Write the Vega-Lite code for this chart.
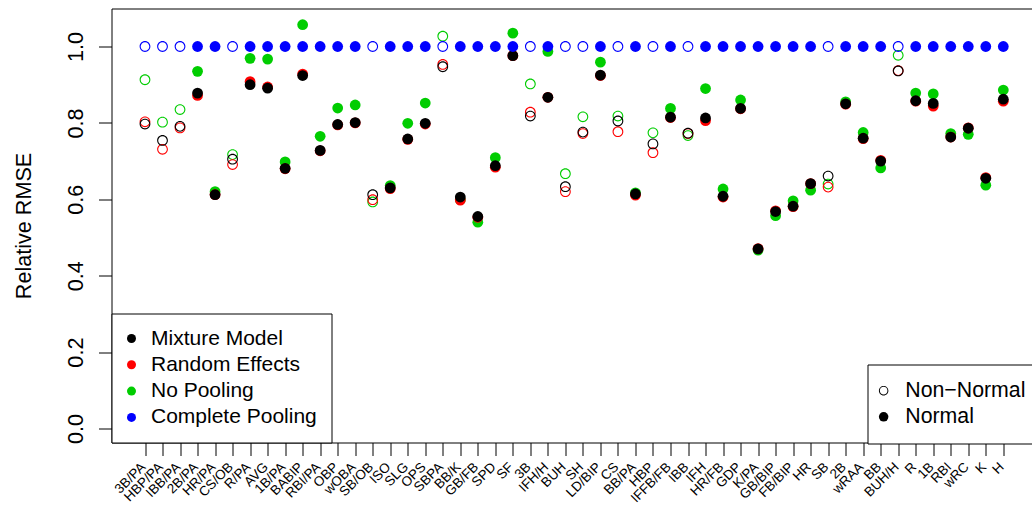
{
  "$schema": "https://vega.github.io/schema/vega-lite/v6.json",
  "width": 922,
  "height": 434,
  "autosize": {"type": "none"},
  "padding": {"left": 111.5, "top": 8.5, "right": -1.5, "bottom": 63.5},
  "background": "white",
  "config": {
    "view": {"stroke": "black", "strokeWidth": 1},
    "font": "Liberation Sans",
    "axis": {"domain": false, "tickColor": "black", "labelColor": "black", "titleColor": "black", "grid": false, "labelOverlap": false, "labelFlush": false, "labelBound": false, "tickWidth": 1},
    "legend": {"symbolBaseFillColor": "black", "symbolBaseStrokeColor": "black", "labelColor": "black", "labelFont": "Liberation Sans", "labelLimit": 400}
  },
  "data": {
    "values": [
      {"stat": "3B/PA", "dist": "Non−Normal", "No Pooling": 0.913, "Random Effects": 0.803, "Mixture Model": 0.797, "Complete Pooling": 1.0},
      {"stat": "HBP/PA", "dist": "Non−Normal", "No Pooling": 0.802, "Random Effects": 0.731, "Mixture Model": 0.754, "Complete Pooling": 1.0},
      {"stat": "IBB/PA", "dist": "Non−Normal", "No Pooling": 0.835, "Random Effects": 0.787, "Mixture Model": 0.791, "Complete Pooling": 1.0},
      {"stat": "2B/PA", "dist": "Normal", "No Pooling": 0.935, "Random Effects": 0.872, "Mixture Model": 0.878, "Complete Pooling": 1.0},
      {"stat": "HR/PA", "dist": "Normal", "No Pooling": 0.62, "Random Effects": 0.612, "Mixture Model": 0.612, "Complete Pooling": 1.0},
      {"stat": "CS/OB", "dist": "Non−Normal", "No Pooling": 0.717, "Random Effects": 0.691, "Mixture Model": 0.705, "Complete Pooling": 1.0},
      {"stat": "R/PA", "dist": "Normal", "No Pooling": 0.969, "Random Effects": 0.908, "Mixture Model": 0.9, "Complete Pooling": 1.0},
      {"stat": "AVG", "dist": "Normal", "No Pooling": 0.967, "Random Effects": 0.894, "Mixture Model": 0.891, "Complete Pooling": 1.0},
      {"stat": "1B/PA", "dist": "Normal", "No Pooling": 0.698, "Random Effects": 0.68, "Mixture Model": 0.681, "Complete Pooling": 1.0},
      {"stat": "BABIP", "dist": "Normal", "No Pooling": 1.057, "Random Effects": 0.928, "Mixture Model": 0.924, "Complete Pooling": 1.0},
      {"stat": "RBI/PA", "dist": "Normal", "No Pooling": 0.765, "Random Effects": 0.727, "Mixture Model": 0.728, "Complete Pooling": 1.0},
      {"stat": "OBP", "dist": "Normal", "No Pooling": 0.839, "Random Effects": 0.795, "Mixture Model": 0.796, "Complete Pooling": 1.0},
      {"stat": "wOBA", "dist": "Normal", "No Pooling": 0.847, "Random Effects": 0.8, "Mixture Model": 0.801, "Complete Pooling": 1.0},
      {"stat": "SB/OB", "dist": "Non−Normal", "No Pooling": 0.593, "Random Effects": 0.599, "Mixture Model": 0.612, "Complete Pooling": 1.0},
      {"stat": "ISO", "dist": "Normal", "No Pooling": 0.636, "Random Effects": 0.628, "Mixture Model": 0.63, "Complete Pooling": 1.0},
      {"stat": "SLG", "dist": "Normal", "No Pooling": 0.799, "Random Effects": 0.757, "Mixture Model": 0.758, "Complete Pooling": 1.0},
      {"stat": "OPS", "dist": "Normal", "No Pooling": 0.852, "Random Effects": 0.797, "Mixture Model": 0.799, "Complete Pooling": 1.0},
      {"stat": "SBPA", "dist": "Non−Normal", "No Pooling": 1.027, "Random Effects": 0.953, "Mixture Model": 0.947, "Complete Pooling": 1.0},
      {"stat": "BB/K", "dist": "Normal", "No Pooling": 0.599, "Random Effects": 0.598, "Mixture Model": 0.606, "Complete Pooling": 1.0},
      {"stat": "GB/FB", "dist": "Normal", "No Pooling": 0.54, "Random Effects": 0.553, "Mixture Model": 0.555, "Complete Pooling": 1.0},
      {"stat": "SPD", "dist": "Normal", "No Pooling": 0.709, "Random Effects": 0.684, "Mixture Model": 0.688, "Complete Pooling": 1.0},
      {"stat": "SF", "dist": "Normal", "No Pooling": 1.035, "Random Effects": 0.976, "Mixture Model": 0.976, "Complete Pooling": 1.0},
      {"stat": "3B", "dist": "Non−Normal", "No Pooling": 0.902, "Random Effects": 0.828, "Mixture Model": 0.818, "Complete Pooling": 1.0},
      {"stat": "IFH/H", "dist": "Normal", "No Pooling": 0.987, "Random Effects": 0.867, "Mixture Model": 0.867, "Complete Pooling": 1.0},
      {"stat": "BUH", "dist": "Non−Normal", "No Pooling": 0.667, "Random Effects": 0.62, "Mixture Model": 0.633, "Complete Pooling": 1.0},
      {"stat": "SH", "dist": "Non−Normal", "No Pooling": 0.816, "Random Effects": 0.772, "Mixture Model": 0.776, "Complete Pooling": 1.0},
      {"stat": "LD/BIP", "dist": "Normal", "No Pooling": 0.959, "Random Effects": 0.924, "Mixture Model": 0.925, "Complete Pooling": 1.0},
      {"stat": "CS", "dist": "Non−Normal", "No Pooling": 0.818, "Random Effects": 0.777, "Mixture Model": 0.805, "Complete Pooling": 1.0},
      {"stat": "BB/PA", "dist": "Normal", "No Pooling": 0.617, "Random Effects": 0.611, "Mixture Model": 0.614, "Complete Pooling": 1.0},
      {"stat": "HBP", "dist": "Non−Normal", "No Pooling": 0.774, "Random Effects": 0.722, "Mixture Model": 0.745, "Complete Pooling": 1.0},
      {"stat": "IFFB/FB", "dist": "Normal", "No Pooling": 0.838, "Random Effects": 0.814, "Mixture Model": 0.815, "Complete Pooling": 1.0},
      {"stat": "IBB", "dist": "Non−Normal", "No Pooling": 0.767, "Random Effects": 0.772, "Mixture Model": 0.773, "Complete Pooling": 1.0},
      {"stat": "IFH", "dist": "Normal", "No Pooling": 0.89, "Random Effects": 0.806, "Mixture Model": 0.813, "Complete Pooling": 1.0},
      {"stat": "HR/FB", "dist": "Normal", "No Pooling": 0.627, "Random Effects": 0.606, "Mixture Model": 0.608, "Complete Pooling": 1.0},
      {"stat": "GDP", "dist": "Normal", "No Pooling": 0.86, "Random Effects": 0.837, "Mixture Model": 0.838, "Complete Pooling": 1.0},
      {"stat": "K/PA", "dist": "Normal", "No Pooling": 0.467, "Random Effects": 0.471, "Mixture Model": 0.47, "Complete Pooling": 1.0},
      {"stat": "GB/BIP", "dist": "Normal", "No Pooling": 0.557, "Random Effects": 0.57, "Mixture Model": 0.568, "Complete Pooling": 1.0},
      {"stat": "FB/BIP", "dist": "Normal", "No Pooling": 0.596, "Random Effects": 0.581, "Mixture Model": 0.582, "Complete Pooling": 1.0},
      {"stat": "HR", "dist": "Normal", "No Pooling": 0.624, "Random Effects": 0.641, "Mixture Model": 0.641, "Complete Pooling": 1.0},
      {"stat": "SB", "dist": "Non−Normal", "No Pooling": 0.64, "Random Effects": 0.632, "Mixture Model": 0.661, "Complete Pooling": 1.0},
      {"stat": "2B", "dist": "Normal", "No Pooling": 0.855, "Random Effects": 0.849, "Mixture Model": 0.85, "Complete Pooling": 1.0},
      {"stat": "wRAA", "dist": "Normal", "No Pooling": 0.775, "Random Effects": 0.759, "Mixture Model": 0.76, "Complete Pooling": 1.0},
      {"stat": "BB", "dist": "Normal", "No Pooling": 0.682, "Random Effects": 0.702, "Mixture Model": 0.7, "Complete Pooling": 1.0},
      {"stat": "BUH/H", "dist": "Non−Normal", "No Pooling": 0.977, "Random Effects": 0.937, "Mixture Model": 0.936, "Complete Pooling": 1.0},
      {"stat": "R", "dist": "Normal", "No Pooling": 0.878, "Random Effects": 0.857, "Mixture Model": 0.858, "Complete Pooling": 1.0},
      {"stat": "1B", "dist": "Normal", "No Pooling": 0.876, "Random Effects": 0.844, "Mixture Model": 0.851, "Complete Pooling": 1.0},
      {"stat": "RBI", "dist": "Normal", "No Pooling": 0.772, "Random Effects": 0.763, "Mixture Model": 0.763, "Complete Pooling": 1.0},
      {"stat": "wRC", "dist": "Normal", "No Pooling": 0.77, "Random Effects": 0.787, "Mixture Model": 0.786, "Complete Pooling": 1.0},
      {"stat": "K", "dist": "Normal", "No Pooling": 0.637, "Random Effects": 0.657, "Mixture Model": 0.655, "Complete Pooling": 1.0},
      {"stat": "H", "dist": "Normal", "No Pooling": 0.886, "Random Effects": 0.857, "Mixture Model": 0.862, "Complete Pooling": 1.0}
    ]
  },
  "transform": [
    {"fold": ["No Pooling", "Random Effects", "Mixture Model", "Complete Pooling"], "as": ["model", "rmse"]}
  ],
  "mark": {"type": "point", "filled": true, "size": 116, "strokeWidth": 0, "opacity": 1},
  "encoding": {
    "x": {
      "field": "stat", "type": "nominal", "sort": null,
      "scale": {"type": "point", "padding": 0, "range": [33.5, 891.8]},
      "axis": {"orient": "bottom", "title": null, "labelAngle": -45, "labelAlign": "right", "labelBaseline": "middle", "labelFontSize": 13.5, "labelPadding": 9, "labelOffset": -2, "tickSize": 13}
    },
    "y": {
      "field": "rmse", "type": "quantitative",
      "scale": {"domain": [-0.0366, 1.0995], "nice": false, "zero": false},
      "axis": {"values": [0, 0.2, 0.4, 0.6, 0.8, 1.0], "format": ".1f", "title": "Relative RMSE", "labelAngle": -90, "labelAlign": "center", "labelBaseline": "alphabetic", "labelFontSize": 21.6, "labelPadding": 16, "tickSize": 13, "titleFontSize": 21.6, "titleFontWeight": "normal", "titleAngle": -90, "titleAlign": "center", "titleBaseline": "alphabetic", "titleX": -81.5, "titleY": 217}
    },
    "fill": {
      "field": "model", "type": "nominal",
      "scale": {"domain": ["Mixture Model", "Random Effects", "No Pooling", "Complete Pooling"], "range": ["#000000", "#FF0000", "#00CD00", "#0000FF"]},
      "legend": {"orient": "none", "legendX": 0, "legendY": 305, "title": null, "padding": 14.5, "strokeColor": "black", "fillColor": "white", "labelFontSize": 21, "symbolSize": 81, "symbolType": "circle", "symbolStrokeWidth": 0, "symbolOffset": -5, "labelOffset": 9, "rowPadding": 4.3}
    },
    "shape": {
      "field": "dist", "type": "nominal",
      "scale": {"range": ["M-1,0A1,1,0,1,0,1,0A1,1,0,1,0,-1,0ZM-0.8,0A0.8,0.8,0,1,1,0.8,0A0.8,0.8,0,1,1,-0.8,0Z", "circle"]},
      "legend": {"orient": "none", "legendX": 756, "legendY": 356, "title": null, "padding": 15.5, "strokeColor": "black", "fillColor": "white", "labelFontSize": 21.3, "symbolSize": 90, "symbolFillColor": "black", "symbolStrokeWidth": 0, "symbolOffset": -10, "labelOffset": 11, "rowPadding": 4.2}
    }
  }
}
